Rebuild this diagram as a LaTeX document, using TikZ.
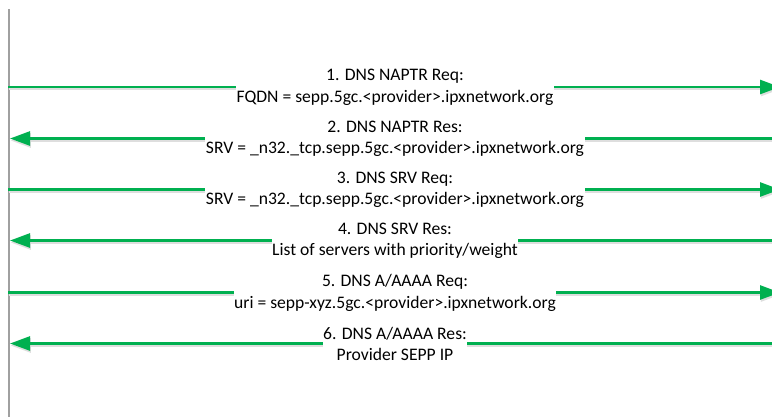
\documentclass[tikz,border=0pt]{standalone}
\usepackage{fontspec}
\setmainfont{Carlito}
\usetikzlibrary{arrows.meta}
\definecolor{msggreen}{HTML}{00B050}
\definecolor{lifegray}{HTML}{A0A0A0}
\tikzset{
  msg/.style={draw=msggreen, line width=2.6pt, -{Triangle[length=20pt,width=14pt]},
    preaction={draw=black!13, line width=2.6pt, transform canvas={shift={(0.8pt,-2pt)}}}},
  msglabel/.style={fill=white, inner xsep=0.5pt, inner ysep=1pt, align=center,
    font=\fontsize{17.6}{21.5}\selectfont},
  lifeline/.style={draw=lifegray, line width=2pt}
}
\begin{document}
\begin{tikzpicture}[x=1pt,y=-1pt]
\clip (0,0) rectangle (772,416);
\fill[white] (0,0) rectangle (772,416);
\coordinate (top) at (9,9);
\coordinate (bot) at (9,420);
\draw[lifeline] (top) -- (bot);
% 1
\coordinate (a1) at (8,87);
\coordinate (b1) at (780,87);
\draw[msg] (a1) -- (b1);
\node[msglabel] (t1) at (395,87.5) {1. DNS NAPTR Req:\\FQDN = sepp.5gc.<provider>.ipxnetwork.org};
% 2
\coordinate (a2) at (772,138.5);
\coordinate (b2) at (10,138.5);
\draw[msg] (a2) -- (b2);
\node[msglabel] (t2) at (395,139) {2. DNS NAPTR Res:\\SRV = \_n32.\_tcp.sepp.5gc.<provider>.ipxnetwork.org};
% 3
\coordinate (a3) at (8,189.5);
\coordinate (b3) at (780,189.5);
\draw[msg] (a3) -- (b3);
\node[msglabel] (t3) at (395,190) {3. DNS SRV Req:\\SRV = \_n32.\_tcp.sepp.5gc.<provider>.ipxnetwork.org};
% 4
\coordinate (a4) at (772,240.5);
\coordinate (b4) at (10,240.5);
\draw[msg] (a4) -- (b4);
\node[msglabel] (t4) at (395,241) {4. DNS SRV Res:\\List of servers with priority/weight};
% 5
\coordinate (a5) at (8,292.5);
\coordinate (b5) at (780,292.5);
\draw[msg] (a5) -- (b5);
\node[msglabel] (t5) at (395,293) {5. DNS A/AAAA Req:\\uri = sepp-xyz.5gc.<provider>.ipxnetwork.org};
% 6
\coordinate (a6) at (772,343.5);
\coordinate (b6) at (10,343.5);
\draw[msg] (a6) -- (b6);
\node[msglabel] (t6) at (395,344) {6. DNS A/AAAA Res:\\Provider SEPP IP};
\end{tikzpicture}
\end{document}
